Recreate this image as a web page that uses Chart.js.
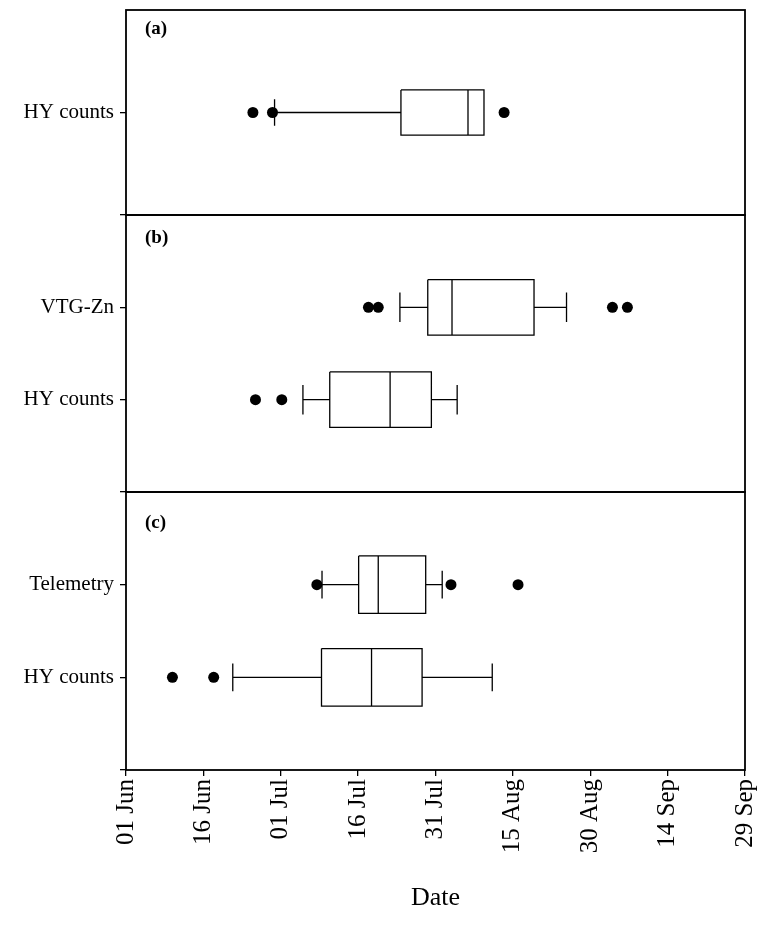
<!DOCTYPE html>
<html>
<head>
<meta charset="utf-8">
<script src="https://cdn.jsdelivr.net/npm/chart.js@4.4.1/dist/chart.umd.min.js"></script>
<style>
  html, body { margin: 0; background: #fff; }
  #wrap { position: relative; width: 759px; height: 926px; }
  #wrap canvas { position: absolute; left: 0; top: 0; }
</style>
</head>
<body>
<div id="wrap">
  <canvas id="panel-a" width="759" height="926"></canvas>
  <canvas id="panel-b" width="759" height="926"></canvas>
  <canvas id="panel-c" width="759" height="926"></canvas>
</div>
<script>
// x values are days after 01 Jun
const DATE_TICKS = ['01 Jun', '16 Jun', '01 Jul', '16 Jul', '31 Jul', '15 Aug', '30 Aug', '14 Sep', '29 Sep'];
const DAY_STEP = 15;

// box stats: [low whisker, Q1, median, Q3, high whisker]
const aLabels = ['HY counts'];
const aHyBox = [28.8, 53.3, 66.3, 69.4, 69.4];
const aHyOut = [24.6, 28.4, 73.3];

const bLabels = ['VTG-Zn', 'HY counts'];
const bVtgBox = [53.1, 58.5, 63.2, 79.1, 85.4];
const bVtgOut = [47.0, 48.9, 94.3, 97.2];
const bHyBox = [34.3, 39.5, 51.2, 59.2, 64.2];
const bHyOut = [25.1, 30.2];

const cLabels = ['Telemetry', 'HY counts'];
const cTelBox = [38.0, 45.1, 48.9, 58.1, 61.3];
const cTelOut = [37.0, 63.0, 76.0];
const cHyBox = [20.7, 37.9, 47.6, 57.4, 71.0];
const cHyOut = [9.0, 17.0];

const SERIF = '"Liberation Serif", "Times New Roman", serif';
const GAP = { x: NaN, y: NaN };

function boxPath(stats, y, half, cap) {
  const [low, q1, med, q3, high] = stats;
  const pts = [
    { x: q1, y: y - half }, { x: q3, y: y - half }, { x: q3, y: y + half }, { x: q1, y: y + half }, { x: q1, y: y - half }, GAP,
    { x: med, y: y - half }, { x: med, y: y + half },
  ];
  if (low < q1) pts.push(GAP, { x: low, y }, { x: q1, y }, GAP, { x: low, y: y - cap }, { x: low, y: y + cap });
  if (high > q3) pts.push(GAP, { x: q3, y }, { x: high, y }, GAP, { x: high, y: y - cap }, { x: high, y: y + cap });
  return pts;
}

const framePlugin = {
  id: 'frame',
  afterDraw(chart, args, opts) {
    const { ctx, chartArea: { left, top, right, bottom } } = chart;
    ctx.save();
    ctx.strokeStyle = '#000';
    ctx.lineWidth = 1.8;
    ctx.strokeRect(left, top, right - left, bottom - top);
    ctx.font = `bold 19px ${SERIF}`;
    ctx.fillStyle = '#000';
    ctx.textBaseline = 'alphabetic';
    ctx.fillText(opts.tag, left + 19, top + opts.tagY);
    ctx.restore();
  },
};

const PANELS = [
  { id: 'panel-a', tag: '(a)', tagY: 24, top: 10, bottom: 215, labels: aLabels, boxes: [aHyBox], outliers: [aHyOut], half: 0.22, cap: 0.13 },
  { id: 'panel-b', tag: '(b)', tagY: 28, top: 215, bottom: 492, labels: bLabels, boxes: [bVtgBox, bHyBox], outliers: [bVtgOut, bHyOut], half: 0.3, cap: 0.16 },
  { id: 'panel-c', tag: '(c)', tagY: 36, top: 492, bottom: 770, labels: cLabels, boxes: [cTelBox, cHyBox], outliers: [cTelOut, cHyOut], half: 0.31, cap: 0.15 },
];

function makeChart(p, isBottom) {
  const yMax = p.labels.length + 1;
  const datasets = [];
  p.boxes.forEach((stats, i) => {
    datasets.push({
      data: boxPath(stats, i + 1, p.half, p.cap),
      showLine: true, spanGaps: false,
      borderColor: '#000', borderWidth: 1.3, pointRadius: 0,
    });
    datasets.push({
      data: p.outliers[i].map(x => ({ x, y: i + 1 })),
      showLine: false, pointRadius: 5.5, backgroundColor: '#000', borderWidth: 0,
    });
  });

  return new Chart(document.getElementById(p.id), {
    type: 'scatter',
    data: { datasets },
    options: {
      responsive: false,
      animation: false,
      events: [],
      layout: { padding: { left: 0, right: 14, top: p.top, bottom: isBottom ? 0 : 926 - p.bottom } },
      plugins: {
        legend: { display: false },
        tooltip: { enabled: false },
        frame: { tag: p.tag, tagY: p.tagY },
      },
      scales: {
        x: {
          type: 'linear',
          min: 0,
          max: (DATE_TICKS.length - 1) * DAY_STEP,
          display: isBottom,
          afterBuildTicks: s => { s.ticks = DATE_TICKS.map((_, i) => ({ value: i * DAY_STEP })); },
          afterFit: s => {
            s.height = isBottom ? 926 - p.bottom : 0;
            s.paddingLeft = 0;
            s.paddingRight = 0;
          },
          border: { display: false },
          grid: { drawOnChartArea: false, drawTicks: true, tickLength: 6, color: '#000', lineWidth: 1.3 },
          ticks: {
            autoSkip: false, minRotation: 90, maxRotation: 90, padding: 3, color: '#000',
            font: { family: SERIF, size: 25 },
            callback: v => DATE_TICKS[Math.round(v / DAY_STEP)],
          },
          title: { display: true, text: 'Date', color: '#000', font: { family: SERIF, size: 26 }, padding: { top: 0, bottom: 12 } },
        },
        y: {
          type: 'linear',
          min: 0,
          max: yMax,
          reverse: true,
          afterBuildTicks: s => {
            s.ticks = [];
            for (let v = 1; v <= yMax; v++) s.ticks.push({ value: v });
          },
          afterFit: s => {
            s.width = 126;
            s.paddingTop = 0;
            s.paddingBottom = 0;
          },
          border: { display: false },
          grid: { drawOnChartArea: false, drawTicks: true, tickLength: 6, color: '#000', lineWidth: 1.3 },
          ticks: {
            padding: 6, color: '#000',
            font: { family: SERIF, size: 21 },
            callback: v => p.labels[v - 1] || '',
          },
        },
      },
    },
    plugins: [framePlugin],
  });
}

PANELS.forEach((p, i) => makeChart(p, i === PANELS.length - 1));
</script>
</body>
</html>
